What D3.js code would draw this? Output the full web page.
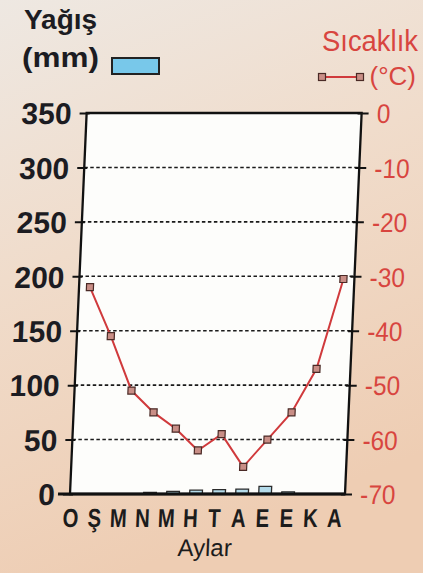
<!DOCTYPE html>
<meta charset="utf-8" />
<html>
<head>
<script src="https://d3js.org/d3.v7.min.js"></script>
<style>
  body { margin: 0; background: #efdcc9; }
  svg { display: block; }
  text { font-family: "Liberation Sans", Arial, sans-serif; }
</style>
</head>
<body>
<script type="text/javascript">
// aylar ve degerler
var months = ['O', 'Ş', 'M', 'N', 'M', 'H', 'T', 'A', 'E', 'E', 'K', 'A'];
var rain = [0, 0, 0, 1.5, 2.5, 3.5, 4, 4.5, 7, 2, 0, 0];
var temp = [-32, -41, -51, -55, -58, -62, -59, -65, -60, -55, -47, -30.5];
var rainTicks = [0, 50, 100, 150, 200, 250, 300, 350];
var tempTicks = [0, -10, -20, -30, -40, -50, -60, -70];
var gridTicks = [50, 100, 150, 200, 250, 300];

var W = 423, H = 573;
var pLeft = 70, pRight = 345, pTop = 113, pBottom = 494;
var red = '#d8453f';

var svg = d3.select('body').append('svg')
    .attr('width', W)
    .attr('height', H);

var bg = svg.append('defs').append('linearGradient')
    .attr('id', 'bg').attr('x1', 0).attr('y1', 0).attr('x2', 0.3).attr('y2', 1);
bg.append('stop').attr('offset', '0%').attr('stop-color', '#eee8e2');
bg.append('stop').attr('offset', '45%').attr('stop-color', '#f0dccb');
bg.append('stop').attr('offset', '100%').attr('stop-color', '#eecdb3');
svg.append('rect').attr('width', W).attr('height', H).attr('fill', 'url(#bg)');

// photo is a little slanted, so the chart block gets a small skew
var g = svg.append('g')
    .attr('transform', 'translate(0,' + pBottom + ') skewX(-2.5) translate(0,' + (-pBottom) + ')');

var x = d3.scaleBand()
    .domain(d3.range(months.length))
    .range([pLeft, pRight])
    .paddingInner(0.45)
    .paddingOuter(0.2);
// month letters sit a bit wider than the points
var xLab = d3.scalePoint()
    .domain(d3.range(months.length))
    .range([pLeft + 1, pRight - 10]);
var yRain = d3.scaleLinear().domain([0, 350]).range([pBottom, pTop]);
var yTemp = d3.scaleLinear().domain([-70, 0]).range([pBottom, pTop]);
function cx(i) { return x(i) + x.bandwidth() / 2; }

g.append('rect')
    .attr('x', pLeft).attr('y', pTop)
    .attr('width', pRight - pLeft).attr('height', pBottom - pTop)
    .attr('fill', '#fdfdfb');

// dashed grid
g.append('g').selectAll('line')
    .data(gridTicks)
    .enter()
    .append('line')
    .attr('x1', pLeft).attr('x2', pRight)
    .attr('y1', function(d) { return yRain(d); })
    .attr('y2', function(d) { return yRain(d); })
    .attr('stroke', '#1a1a1a')
    .attr('stroke-width', 1.6)
    .attr('stroke-dasharray', '3.5,2.5');

// precipitation bars
var rainData = rain.map(function(v, i) { return {m: i, v: v}; })
    .filter(function(d) { return d.v > 0; });
g.append('g').selectAll('rect')
    .data(rainData)
    .enter()
    .append('rect')
    .attr('x', function(d) { return x(d.m); })
    .attr('width', x.bandwidth())
    .attr('y', function(d) { return yRain(d.v); })
    .attr('height', function(d) { return pBottom - yRain(d.v); })
    .attr('fill', '#b4dbea')
    .attr('stroke', '#2b2b2b')
    .attr('stroke-width', 1.3);

// frame
g.append('rect')
    .attr('x', pLeft).attr('y', pTop)
    .attr('width', pRight - pLeft).attr('height', pBottom - pTop)
    .attr('fill', 'none')
    .attr('stroke', '#111')
    .attr('stroke-width', 2.3);
g.append('line')
    .attr('x1', pLeft - 12).attr('x2', pRight)
    .attr('y1', pBottom).attr('y2', pBottom)
    .attr('stroke', '#111').attr('stroke-width', 3);

// left axis
var axL = g.append('g')
    .attr('transform', 'translate(' + pLeft + ',0)')
    .call(d3.axisLeft(yRain).tickValues(rainTicks).tickSize(7).tickPadding(8));
axL.select('.domain').remove();
axL.selectAll('line').attr('stroke', '#111').attr('stroke-width', 2).attr('x2', -7).attr('x1', 3);
axL.selectAll('text')
    .attr('fill', '#1c1c22')
    .style('font-size', '30px')
    .style('font-weight', 'bold')
    .attr('dy', '0.36em');

// right axis
var axR = g.append('g')
    .attr('transform', 'translate(' + pRight + ',0)')
    .call(d3.axisRight(yTemp).tickValues(tempTicks).tickSize(7).tickPadding(10)
      .tickFormat(function(d) { return String(d); }));
axR.select('.domain').remove();
axR.selectAll('line').attr('stroke', '#111').attr('stroke-width', 2).attr('x1', -4);
axR.selectAll('text')
    .attr('fill', red)
    .attr('transform', 'scale(0.9,1)')
    .style('font-size', '27px')
    .attr('dy', '0.36em');

// temperature line
var line = d3.line()
    .x(function(d, i) { return cx(i); })
    .y(function(d) { return yTemp(d); });
g.append('path')
    .attr('d', line(temp))
    .attr('fill', 'none')
    .attr('stroke', '#d03a3c')
    .attr('stroke-width', 2);
g.append('g').selectAll('rect')
    .data(temp)
    .enter()
    .append('rect')
    .attr('x', function(d, i) { return cx(i) - 3.5; })
    .attr('y', function(d) { return yTemp(d) - 3.5; })
    .attr('width', 7).attr('height', 7)
    .attr('fill', '#c98e86')
    .attr('stroke', '#4a2a26')
    .attr('stroke-width', 1.2);

// month labels (narrow letters in the original)
var axB = g.append('g')
    .attr('transform', 'translate(0,' + pBottom + ')')
    .call(d3.axisBottom(xLab).tickSize(0).tickPadding(15).tickFormat(function(i) { return months[i]; }));
axB.select('.domain').remove();
axB.selectAll('text')
    .attr('fill', '#1c1c1c')
    .attr('transform', 'scale(0.78,1)')
    .style('font-size', '26px')
    .style('font-weight', 'bold');

g.append('text')
    .attr('x', 207).attr('y', 556)
    .attr('text-anchor', 'middle')
    .attr('fill', '#1c1c1c')
    .style('font-size', '24px')
    .text('Aylar');

// legend / titles
svg.append('text')
    .attr('x', 24).attr('y', 29)
    .attr('fill', '#1c1c22')
    .attr('textLength', 73).attr('lengthAdjust', 'spacingAndGlyphs')
    .style('font-size', '28px').style('font-weight', 'bold')
    .text('Yağış');
svg.append('text')
    .attr('x', 22).attr('y', 67)
    .attr('fill', '#1c1c22')
    .attr('textLength', 77).attr('lengthAdjust', 'spacingAndGlyphs')
    .style('font-size', '28px').style('font-weight', 'bold')
    .text('(mm)');
svg.append('rect')
    .attr('x', 112).attr('y', 58)
    .attr('width', 47).attr('height', 16)
    .attr('fill', '#78c8ea')
    .attr('stroke', '#222')
    .attr('stroke-width', 2);

svg.append('text')
    .attr('x', 418).attr('y', 51)
    .attr('text-anchor', 'end')
    .attr('fill', red)
    .attr('textLength', 96).attr('lengthAdjust', 'spacingAndGlyphs')
    .style('font-size', '29px')
    .text('Sıcaklık');
svg.append('text')
    .attr('x', 416).attr('y', 85)
    .attr('text-anchor', 'end')
    .attr('fill', red)
    .style('font-size', '26px')
    .text('(°C)');
svg.append('line')
    .attr('x1', 322).attr('x2', 360)
    .attr('y1', 77).attr('y2', 77)
    .attr('stroke', '#d03a3c').attr('stroke-width', 2);
svg.append('g').selectAll('rect')
    .data([322, 360])
    .enter()
    .append('rect')
    .attr('x', function(d) { return d - 3.5; })
    .attr('y', 73.5)
    .attr('width', 7).attr('height', 7)
    .attr('fill', '#c98e86')
    .attr('stroke', '#4a2a26')
    .attr('stroke-width', 1.2);
</script>
</body>
</html>
